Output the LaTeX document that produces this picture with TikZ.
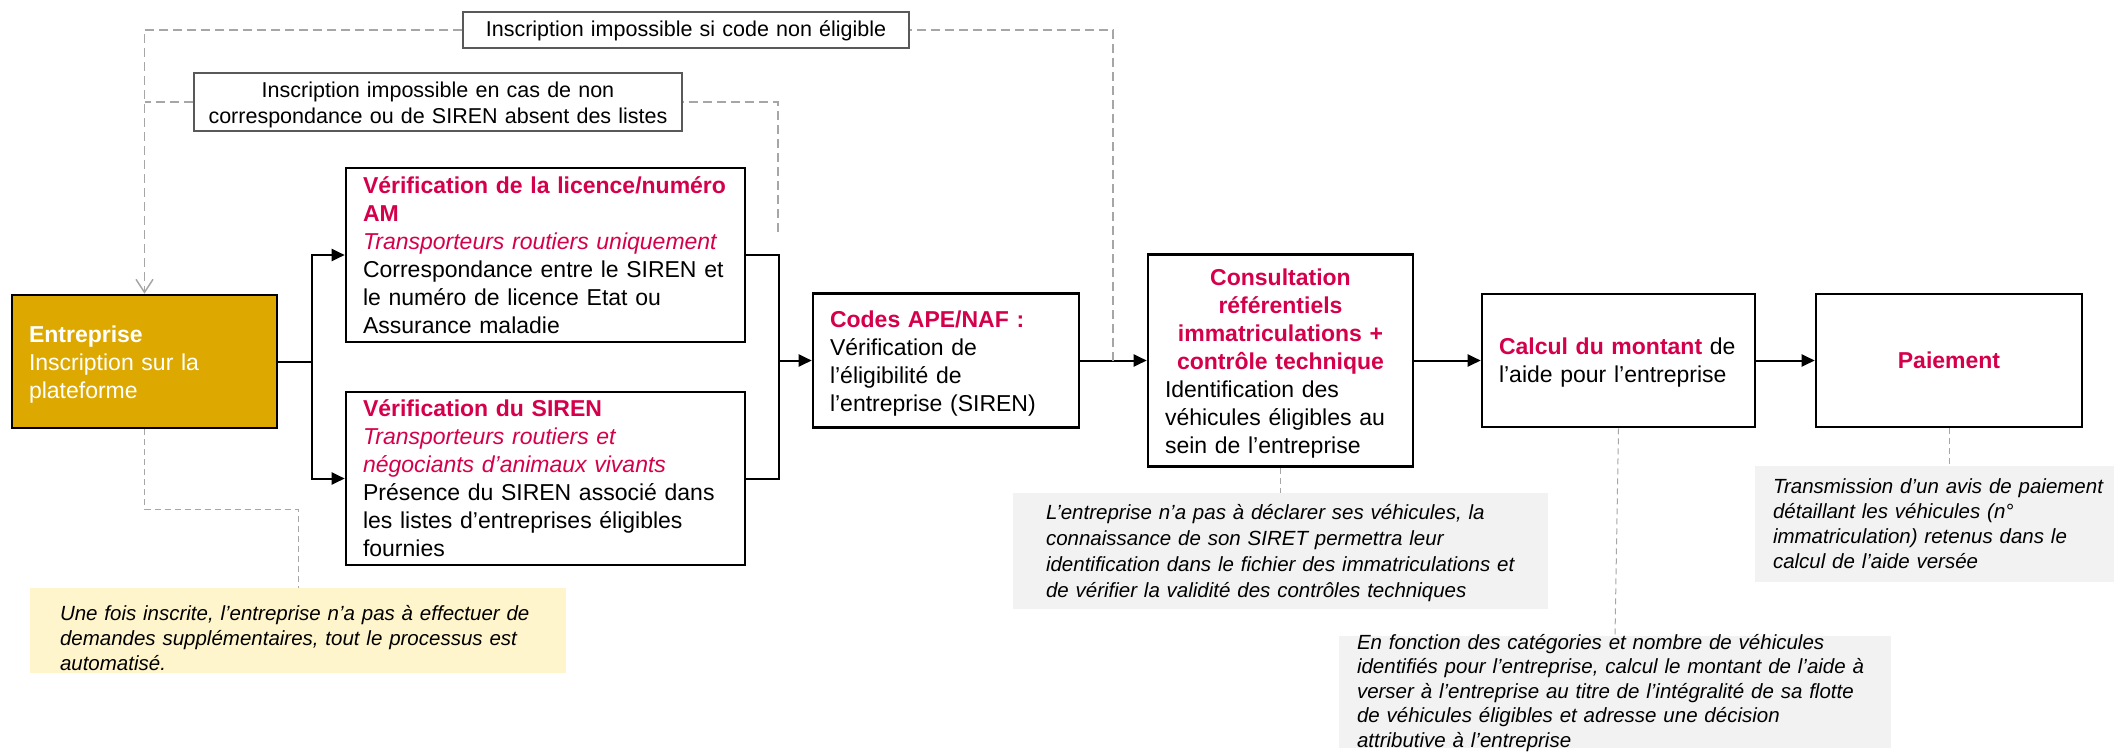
\documentclass[tikz,border=0pt]{standalone}
\usepackage{fontspec}
\setmainfont{Liberation Sans}
\usetikzlibrary{arrows.meta,calc}
\definecolor{accent}{RGB}{213,0,75}
\definecolor{gold}{RGB}{221,169,0}
\definecolor{paleyellow}{RGB}{255,245,204}
\definecolor{notegray}{RGB}{242,242,242}
\definecolor{dashgray}{RGB}{166,166,166}
\definecolor{labelborder}{RGB}{89,89,89}
\newcommand\redhead[1]{\textcolor{accent}{\textbf{#1}}}
\newcommand\redsub[1]{\textcolor{accent}{\textit{#1}}}
\begin{document}
\begin{tikzpicture}[x=1pt,y=-1pt,
  box/.style={draw=black, line width=2.6pt, fill=white, inner xsep=17pt, inner ysep=0pt,
    align=left, font=\fontsize{23}{28}\selectfont},
  lbl/.style={draw=labelborder, line width=1.3pt, fill=white, inner xsep=8pt, inner ysep=0pt,
    align=center, font=\fontsize{21.5}{26}\selectfont},
  note/.style={fill=notegray, inner ysep=0pt, align=left},
  conn/.style={draw=black, line width=2pt},
  arr/.style={conn, -{Triangle[length=13pt,width=12pt]}},
  fb/.style={draw=dashgray, line width=1.5pt, dash pattern=on 9pt off 5pt},
  nc/.style={draw=dashgray, line width=1pt, dash pattern=on 6pt off 4pt},
]
\useasboundingbox (0,0) rectangle (2114,753);

% main boxes
\node[box, fill=gold, text=white, minimum width=265pt, minimum height=133pt,
  text width=231pt, text height=17pt, text depth=56pt] (ent) at (144.5,361.5)
  {\textbf{Entreprise}\\Inscription sur la\\plateforme};

\node[box, minimum width=399pt, minimum height=174pt, text width=365pt,
  text height=17pt, text depth=141pt] (lic) at (545.5,255)
  {\redhead{Vérification de la licence/numéro}\\
   \redhead{AM}\\
   \redsub{Transporteurs routiers uniquement}\\
   Correspondance entre le SIREN et\\
   le numéro de licence Etat ou\\
   Assurance maladie};

\node[box, minimum width=399pt, minimum height=173pt, text width=365pt,
  text height=17pt, text depth=142pt] (sir) at (545.5,478.5)
  {\redhead{Vérification du SIREN}\\
   \redsub{Transporteurs routiers et}\\
   \redsub{négociants d’animaux vivants}\\
   Présence du SIREN associé dans\\
   les listes d’entreprises éligibles\\
   fournies};

\node[box, minimum width=266pt, minimum height=134pt, text width=232pt,
  text height=17pt, text depth=84pt] (codes) at (946,360.5)
  {\redhead{Codes APE/NAF :}\\
   Vérification de\\
   l’éligibilité de\\
   l’entreprise (SIREN)};

\node[box, minimum width=265pt, minimum height=212pt, text width=231pt,
  text height=17pt, text depth=168pt] (cons) at (1280.5,360.5)
  {{\centering\color{accent}\bfseries Consultation\\ référentiels\\ immatriculations +\\ contrôle technique\par}%
   Identification des\\
   véhicules éligibles au\\
   sein de l’entreprise};

\node[box, minimum width=273pt, minimum height=133pt, text width=239pt,
  text height=17pt, text depth=30pt] (calc) at (1618.5,360.5)
  {\redhead{Calcul du montant} de\\
   l’aide pour l’entreprise};

\node[box, align=center, minimum width=266pt, minimum height=133pt, text width=232pt,
  text height=17pt, text depth=2pt] (pai) at (1949,360.5)
  {\redhead{Paiement}};

% labels on the feedback lines
\node[lbl, minimum width=446pt, minimum height=36pt, text width=430pt,
  text height=16pt, text depth=2.6pt] (lab1) at (686,30)
  {Inscription impossible si code non éligible};
\node[lbl, minimum width=488pt, minimum height=58pt, text width=472pt,
  text height=16pt, text depth=25.4pt] (lab2) at (438,102)
  {Inscription impossible en cas de non\\ correspondance ou de SIREN absent des listes};

% notes
\node[note, fill=paleyellow, minimum width=536pt, minimum height=85pt, inner xsep=30pt,
  text width=476pt, text height=15pt, text depth=36pt,
  font=\fontsize{20.5}{25}\selectfont\itshape] (ny) at (298,630.5)
  {Une fois inscrite, l’entreprise n’a pas à effectuer de\\
   demandes supplémentaires, tout le processus est\\
   automatisé.};

\node[note, minimum width=535pt, minimum height=116pt, inner xsep=33pt,
  text width=469pt, text height=15pt, text depth=79pt,
  font=\fontsize{20.5}{26}\selectfont\itshape] (n1) at (1280.5,551)
  {L’entreprise n’a pas à déclarer ses véhicules, la\\
   connaissance de son SIRET permettra leur\\
   identification dans le fichier des immatriculations et\\
   de vérifier la validité des contrôles techniques};

\node[note, minimum width=552pt, minimum height=112pt, inner xsep=18pt,
  text width=516pt, text height=13pt, text depth=99pt,
  font=\fontsize{20.5}{24.5}\selectfont\itshape] (n2) at (1615,692)
  {En fonction des catégories et nombre de véhicules\\
   identifiés pour l’entreprise, calcul le montant de l’aide à\\
   verser à l’entreprise au titre de l’intégralité de sa flotte\\
   de véhicules éligibles et adresse une décision\\
   attributive à l’entreprise};

\node[note, minimum width=385pt, minimum height=116pt, inner xsep=18pt,
  text width=349pt, text height=15pt, text depth=77pt,
  font=\fontsize{20.5}{25}\selectfont\itshape] (n3) at (1947.5,524)
  {Transmission d’un avis de paiement\\
   détaillant les véhicules (n°\\
   immatriculation) retenus dans le\\
   calcul de l’aide versée};

% main connectors
\coordinate (j1) at (312,361.5);
\coordinate (j2) at (779,360.5);
\draw[conn] (ent.east) -- (j1);
\draw[arr] (j1) |- (lic.west);
\draw[arr] (j1) |- (sir.west);
\draw[conn] (lic.east) -| (j2);
\draw[conn] (sir.east) -| (j2);
\draw[arr] (j2) -- (codes.west);
\draw[arr] (codes.east) -- (cons.west);
\draw[arr] (cons.east) -- (calc.west);
\draw[arr] (calc.east) -- (pai.west);

% feedback (dashed) connectors
\coordinate (d1) at (1113,360.5);
\coordinate (d2) at (778,232);
\draw[fb] (d1) |- (lab1.east);
\draw[fb, -{Straight Barb[length=13pt,width=17pt]}] (lab1.west) -| (ent.north);
\draw[fb] (d2) |- (lab2.east);
\draw[fb] (lab2.west) -- (lab2.west -| ent.north);

% note connectors
\draw[nc] (ent.south) -- ++(0,80) -| (ny.north);
\draw[nc] (cons.south) -- (n1.north);
\draw[nc] (calc.south) -- (n2.north);
\draw[nc] (pai.south) -- (pai.south |- n3.north);
\end{tikzpicture}
\end{document}
